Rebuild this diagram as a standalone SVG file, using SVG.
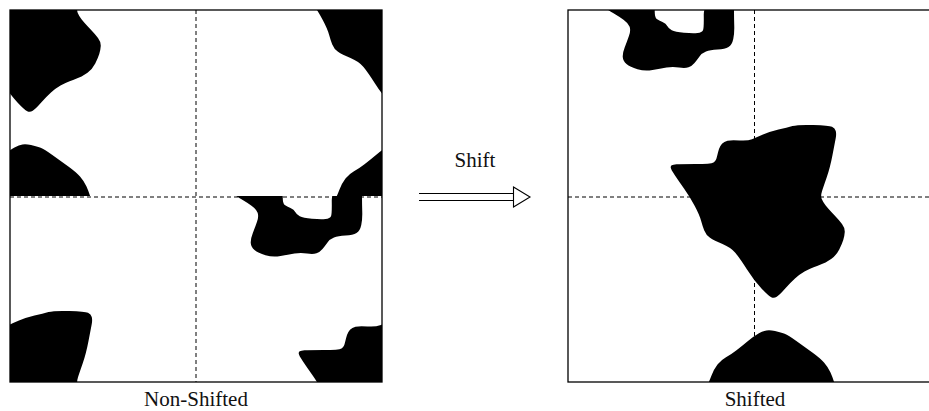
<svg xmlns="http://www.w3.org/2000/svg" xmlns:xlink="http://www.w3.org/1999/xlink" width="929" height="411" viewBox="0 0 929 411">
  <style>
    .blob { fill: #000; stroke: none; }
    .frame { fill: none; stroke: #000; stroke-width: 1.3; }
    .axis { fill: none; stroke: #000; stroke-width: 1; stroke-dasharray: 4 3; }
    .rail { fill: none; stroke: #000; stroke-width: 1.1; }
    .head { fill: #fff; stroke: #000; stroke-width: 1.1; stroke-linejoin: miter; }
    .label { font-family: "Liberation Serif", "DejaVu Serif", serif; font-size: 21px; fill: #111; text-anchor: middle; }
  </style>
  <defs>
    <!-- square of the centred image (568..940 x 10..382) -->
    <clipPath id="clip-base" clipPathUnits="userSpaceOnUse">
      <rect x="568" y="10" width="372" height="372"/>
    </clipPath>
    <!-- square of the uncentred image -->
    <clipPath id="clip-orig" clipPathUnits="userSpaceOnUse">
      <rect x="10" y="10" width="372" height="372"/>
    </clipPath>
    <!-- the three shapes, drawn in the frame of the centred image -->
    <g id="base" clip-path="url(#clip-base)">
      <!-- ring-like shape cut by the top edge -->
      <path class="blob" d="M625.5,2 Q596,2 602,6 Q608,10 613.5,13.25 Q619,16.5 623.5,19.75 Q628,23 629.5,26.5 Q631,30 629,35.75 Q627,41.5 624.75,47.25 Q622.5,53 622.75,57 Q623,61 626.5,64 Q630,67 637.5,69.25 Q645,71.5 652.5,70 Q660,68.5 666.5,67.5 Q673,66.5 679,67.5 Q685,68.5 688.5,67.25 Q692,66 694.5,63 Q697,60 699.5,56.5 Q702,53 706,51.5 Q710,50 717.5,49.5 Q725,49 728.5,47 Q732,45 733.25,39 Q734.5,33 734.25,25.5 Q734,18 734,10 Q734,2 718.75,2 Q703.5,2 703.75,15 Q704,28 703,30.25 Q702,32.5 697.5,33 Q693,33.5 684,32.75 Q675,32 671.75,30.25 Q668.5,28.5 667.25,26 Q666,23.5 662.5,22 Q659,20.5 656.75,19 Q654.5,17.5 654.75,9.75 Q655,2 625.5,2 Z"/>
      <!-- large central shape -->
      <path class="blob" d="M671.75,165.25 Q673,164.5 676.5,164.25 Q680,164 695.5,164 Q711,164 713.5,162.5 Q716,161 717,156.5 Q718,152 719,149 Q720,146 722,143.75 Q724,141.5 727.5,140.75 Q731,140 739.5,140.5 Q748,141 752,139.25 Q756,137.5 763,134.5 Q770,131.5 778.5,129.5 Q787,127.5 792.5,126 Q798,124.5 813.5,125 Q829,125.5 832,126.75 Q835,128 835.75,131 Q836.5,134 835.75,138 Q835,142 832.5,155 Q830,168 826.75,177.25 Q823.5,186.5 822,191.25 Q820.5,196 821.75,199 Q823,202 825.5,205.25 Q828,208.5 833.5,214.25 Q839,220 842,224 Q845,228 844.75,232 Q844.5,236 843.25,240 Q842,244 839.25,249.5 Q836.5,255 831.5,258.75 Q826.5,262.5 817.75,265.75 Q809,269 804.5,271.5 Q800,274 795,278.5 Q790,283 784.75,289 Q779.5,295 776.75,296.75 Q774,298.5 771.25,297.25 Q768.5,296 761.25,288.25 Q754,280.5 747,269.5 Q740,258.5 735.5,253 Q731,247.5 722.5,244 Q714,240.5 710,237.75 Q706,235 704.25,230.5 Q702.5,226 701,220.5 Q699.5,215 694.75,206 Q690,197 684,188.5 Q678,180 674.5,174.75 Q671,169.5 670.75,167.75 Q670.5,166 671.75,165.25 Z"/>
      <!-- mound cut by the bottom edge -->
      <path class="blob" d="M770.5,392 Q704,392 706.5,387 Q709,382 711.5,375.5 Q714,369 717.5,364.5 Q721,360 726,357.25 Q731,354.5 736.5,350.25 Q742,346 748,341 Q754,336 758.5,333.5 Q763,331 766.5,330.5 Q770,330 775,331 Q780,332 784,333.5 Q788,335 796,340.75 Q804,346.5 812,352.25 Q820,358 824,362.5 Q828,367 830.5,372.5 Q833,378 835,385 Q837,392 770.5,392 Z"/>
    </g>
  </defs>

  <!-- uncentred image: quadrants of the centred one swapped -->
  <g id="panel-non-shifted">
    <g clip-path="url(#clip-orig)">
      <use xlink:href="#base" transform="translate(-372,186)"/>
      <use xlink:href="#base" transform="translate(-744,186)"/>
      <use xlink:href="#base" transform="translate(-372,-186)"/>
      <use xlink:href="#base" transform="translate(-744,-186)"/>
    </g>
    <line class="axis" x1="196" y1="10" x2="196" y2="382"/>
    <line class="axis" x1="10" y1="197" x2="382" y2="197"/>
    <rect class="frame" x="10" y="10" width="372" height="372"/>
    <text class="label" x="196" y="406">Non-Shifted</text>
  </g>

  <!-- centred image -->
  <g id="panel-shifted">
    <use xlink:href="#base"/>
    <line class="axis" x1="754.5" y1="10" x2="754.5" y2="382"/>
    <line class="axis" x1="568" y1="197" x2="940" y2="197"/>
    <rect class="frame" x="568" y="10" width="372" height="372"/>
    <text class="label" x="755" y="406">Shifted</text>
  </g>

  <!-- double-shafted arrow between the two panels -->
  <g id="connectors">
    <g id="shift-arrow">
      <line class="rail" x1="419" y1="193.5" x2="514" y2="193.5"/>
      <line class="rail" x1="419" y1="200.5" x2="514" y2="200.5"/>
      <polygon class="head" points="513.5,187 530,197 513.5,207"/>
      <text class="label" x="475" y="167">Shift</text>
    </g>
  </g>
</svg>
